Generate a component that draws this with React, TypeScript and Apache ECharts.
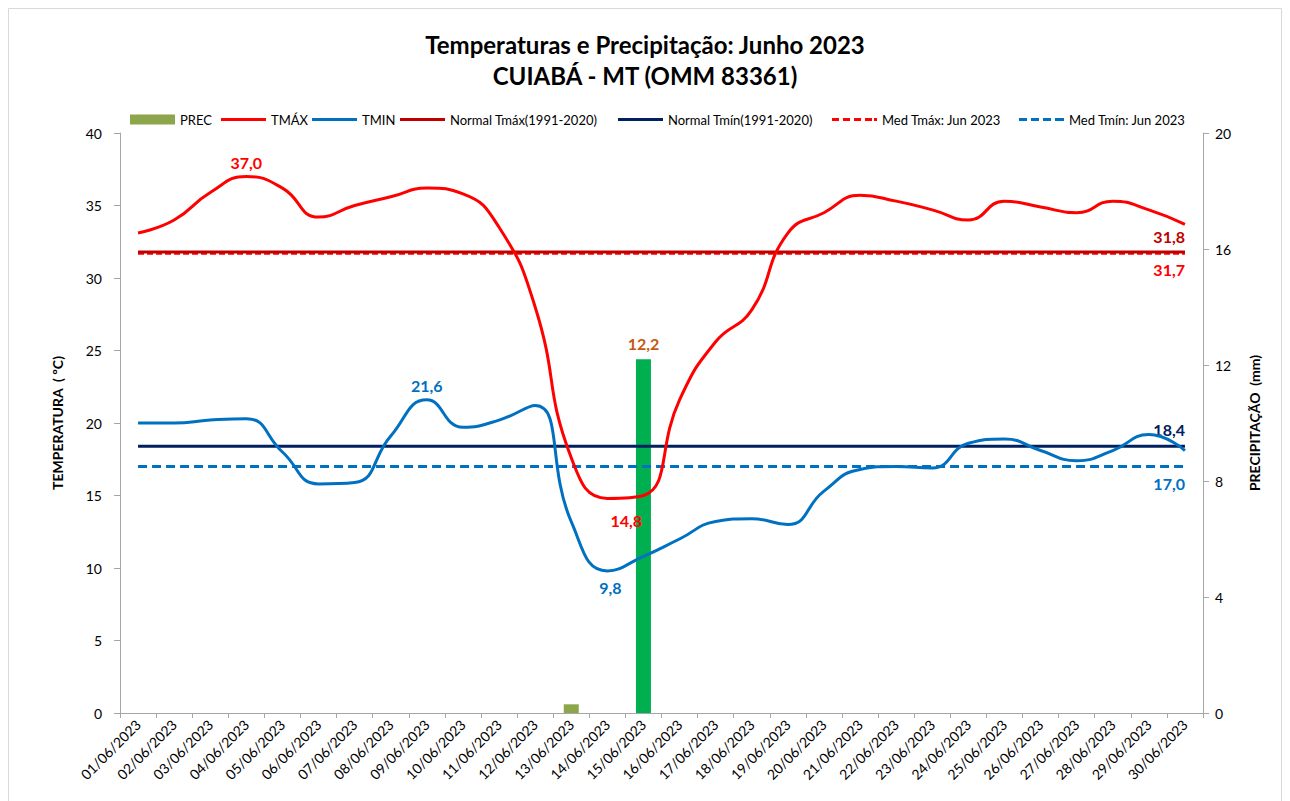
import React, { useEffect, useRef } from "react";
import * as echarts from "echarts";

const CATEGORIES = [
  "01/06/2023", "02/06/2023", "03/06/2023", "04/06/2023", "05/06/2023",
  "06/06/2023", "07/06/2023", "08/06/2023", "09/06/2023", "10/06/2023",
  "11/06/2023", "12/06/2023", "13/06/2023", "14/06/2023", "15/06/2023",
  "16/06/2023", "17/06/2023", "18/06/2023", "19/06/2023", "20/06/2023",
  "21/06/2023", "22/06/2023", "23/06/2023", "24/06/2023", "25/06/2023",
  "26/06/2023", "27/06/2023", "28/06/2023", "29/06/2023", "30/06/2023",
];

const TMAX = [
  33.1, 34.0, 35.9, 37.0, 36.2, 34.2, 35.0, 35.6, 36.2, 35.8,
  33.5, 28.0, 17.6, 14.8, 15.0, 21.6, 25.6, 27.8, 33.1, 34.5,
  35.7, 35.3, 34.7, 34.0, 35.3, 34.9, 34.5, 35.3, 34.7, 33.7,
];

const TMIN = [
  20.0, 20.0, 20.2, 20.3, 18.0, 15.8, 15.9, 19.1, 21.6, 19.7,
  20.2, 21.2, 13.2, 9.8, 10.8, 12.0, 13.2, 13.4, 13.0, 15.3,
  16.8, 17.0, 16.9, 18.6, 18.9, 18.1, 17.4, 18.1, 19.2, 18.1,
];

const PREC = [
  0, 0, 0, 0, 0, 0, 0, 0, 0, 0,
  0, 0, 0.3, 0, 12.2, 0, 0, 0, 0, 0,
  0, 0, 0, 0, 0, 0, 0, 0, 0, 0,
];

const NORMAL_TMAX = 31.8;
const NORMAL_TMIN = 18.4;
const MED_TMAX = 31.7;
const MED_TMIN = 17.0;

const TEMP_TICKS = { min: 0, max: 40, interval: 5 };
const PREC_TICKS = { min: 0, max: 20, interval: 4 };

const FONT = "Lato, 'Noto Sans', sans-serif";
const fmt = (v: number) => v.toFixed(1).replace(".", ",");

const RED = "#FF0000";
const BLUE = "#0070C0";
const DARKRED = "#C00000";
const NAVY = "#002060";
const OLIVE = "#8DA64C";
const GREEN = "#00B050";

const ICON_SOLID = "path://M0,0h45v3h-45z";
const ICON_DASH_RED = "path://M0,0h7v3h-7z M11,0h7v3h-7z M22,0h7v3h-7z M33,0h7v3h-7z M42,0h3v3h-3z";
const ICON_DASH_BLUE = "path://M0,0h8v3h-8z M12,0h8v3h-8z M24,0h8v3h-8z M36,0h9v3h-9z";

const lastIdx = CATEGORIES.length - 1;

export default function App() {
  const ref = useRef<HTMLDivElement>(null);

  useEffect(() => {
    if (!ref.current) return;
    const chart = echarts.init(ref.current, undefined, { renderer: "svg" });

    const mp = (idx: number, value: number, color: string, label: any) => ({
      coord: [idx, value],
      value,
      symbol: "circle",
      symbolSize: 1,
      itemStyle: { color: "rgba(0,0,0,0)" },
      label: {
        show: true,
        color,
        fontFamily: FONT,
        fontWeight: "bold",
        fontSize: 16,
        formatter: () => fmt(value),
        ...label,
      },
    });

    const markPoints = (items: any[]) => ({
      silent: true,
      animation: false,
      data: items,
    });

    const legendItem = (name: string, left: number, icon: string, h: number) => ({
      data: [{ name, icon }],
      left,
      top: 113,
      itemWidth: 45,
      itemHeight: h,
      itemGap: 4,
      itemStyle: { borderWidth: 0 },
      lineStyle: { width: 0 },
      textStyle: { fontFamily: FONT, fontSize: 13, color: "#000" },
      padding: 0,
    });

    const lineBase = {
      type: "line",
      smooth: 0.5,
      symbol: "none",
      showSymbol: false,
      yAxisIndex: 0,
    };

    const option: any = {
      animation: false,
      backgroundColor: "#fff",
      textStyle: { fontFamily: FONT },
      title: {
        text: "Temperaturas e Precipitação: Junho 2023\nCUIABÁ - MT (OMM 83361)",
        left: "center",
        top: 24,
        textStyle: {
          fontFamily: FONT,
          fontSize: 24,
          fontWeight: "bold",
          color: "#000",
          lineHeight: 31,
        },
      },
      graphic: [
        {
          type: "rect",
          silent: true,
          z: -10,
          shape: { x: 8.5, y: 8.5, width: 1273, height: 810 },
          style: { fill: "none", stroke: "#d9d9d9", lineWidth: 1 },
        },
      ],
      legend: [
        legendItem("PREC", 130, "rect", 10),
        legendItem("TMÁX", 221, ICON_SOLID, 3),
        legendItem("TMIN", 312, ICON_SOLID, 3),
        legendItem("Normal Tmáx(1991-2020)", 400, ICON_SOLID, 3),
        legendItem("Normal Tmín(1991-2020)", 618, ICON_SOLID, 3),
        legendItem("Med Tmáx: Jun 2023", 832, ICON_DASH_RED, 3),
        legendItem("Med Tmín: Jun 2023", 1019, ICON_DASH_BLUE, 3),
      ],
      grid: { left: 120, right: 87, top: 133, bottom: 88 },
      xAxis: {
        type: "category",
        data: CATEGORIES,
        boundaryGap: true,
        axisLine: { show: true, lineStyle: { color: "#a6a6a6", width: 1 } },
        axisTick: { show: true, length: 5, lineStyle: { color: "#a6a6a6" } },
        axisLabel: {
          interval: 0,
          rotate: 45,
          margin: 9,
          fontSize: 14,
          color: "#000",
          fontFamily: FONT,
        },
      },
      yAxis: [
        {
          type: "value",
          ...TEMP_TICKS,
          name: "TEMPERATURA  ( ºC)",
          nameLocation: "middle",
          nameGap: 56,
          nameTextStyle: { fontFamily: FONT, fontWeight: "bold", fontSize: 14, color: "#000" },
          axisLine: { show: true, lineStyle: { color: "#a6a6a6" } },
          axisTick: { show: true, length: 6, lineStyle: { color: "#a6a6a6" } },
          splitLine: { show: false },
          axisLabel: { color: "#000", fontSize: 14, margin: 18, fontFamily: FONT },
        },
        {
          type: "value",
          ...PREC_TICKS,
          position: "right",
          name: "PRECIPITAÇÃO  (mm)",
          nameLocation: "middle",
          nameGap: 44,
          nameRotate: 90,
          nameTextStyle: { fontFamily: FONT, fontWeight: "bold", fontSize: 14, color: "#000" },
          axisLine: { show: true, lineStyle: { color: "#a6a6a6" } },
          axisTick: { show: true, length: 6, lineStyle: { color: "#a6a6a6" } },
          splitLine: { show: false },
          axisLabel: { color: "#000", fontSize: 14, margin: 12, fontFamily: FONT },
        },
      ],
      series: [
        {
          name: "PREC",
          type: "bar",
          yAxisIndex: 1,
          barWidth: 15,
          itemStyle: { color: OLIVE },
          data: PREC.map((v, i) =>
            i === 14
              ? {
                  value: v,
                  itemStyle: { color: GREEN },
                  label: {
                    show: true,
                    position: "top",
                    distance: 8,
                    color: "#C55A11",
                    fontFamily: FONT,
                    fontWeight: "bold",
                    fontSize: 16,
                    formatter: (p: any) => fmt(p.value),
                  },
                }
              : v
          ),
        },
        {
          ...lineBase,
          name: "TMÁX",
          z: 5,
          lineStyle: { color: RED, width: 3 },
          itemStyle: { color: RED },
          data: TMAX,
          markPoint: markPoints([
            mp(3, TMAX[3], RED, { position: "top", distance: 6 }),
            mp(13, TMAX[13], RED, { position: "bottom", distance: 14, offset: [19, 0] }),
          ]),
        },
        {
          ...lineBase,
          name: "TMIN",
          z: 5,
          lineStyle: { color: BLUE, width: 3 },
          itemStyle: { color: BLUE },
          data: TMIN,
          markPoint: markPoints([
            mp(8, TMIN[8], BLUE, { position: "top", distance: 6 }),
            mp(13, TMIN[13], BLUE, { position: "bottom", distance: 8, offset: [3, 0] }),
          ]),
        },
        {
          ...lineBase,
          name: "Normal Tmáx(1991-2020)",
          smooth: false,
          z: 3,
          lineStyle: { color: DARKRED, width: 3 },
          itemStyle: { color: DARKRED },
          data: CATEGORIES.map(() => NORMAL_TMAX),
          markPoint: markPoints([
            mp(lastIdx, NORMAL_TMAX, DARKRED, { position: "top", align: "right", distance: 7 }),
          ]),
        },
        {
          ...lineBase,
          name: "Normal Tmín(1991-2020)",
          smooth: false,
          z: 3,
          lineStyle: { color: NAVY, width: 3 },
          itemStyle: { color: NAVY },
          data: CATEGORIES.map(() => NORMAL_TMIN),
          markPoint: markPoints([
            mp(lastIdx, NORMAL_TMIN, NAVY, { position: "top", align: "right", distance: 8 }),
          ]),
        },
        {
          ...lineBase,
          name: "Med Tmáx: Jun 2023",
          smooth: false,
          z: 2,
          lineStyle: { color: RED, width: 3, type: [6, 3] },
          itemStyle: { color: RED },
          data: CATEGORIES.map(() => MED_TMAX),
          markPoint: markPoints([
            mp(lastIdx, MED_TMAX, RED, { position: "bottom", align: "right", distance: 8 }),
          ]),
        },
        {
          ...lineBase,
          name: "Med Tmín: Jun 2023",
          smooth: false,
          z: 2,
          lineStyle: { color: BLUE, width: 3, type: [9, 5] },
          itemStyle: { color: BLUE },
          data: CATEGORIES.map(() => MED_TMIN),
          markPoint: markPoints([
            mp(lastIdx, MED_TMIN, BLUE, { position: "bottom", align: "right", distance: 8 }),
          ]),
        },
      ],
    };

    chart.setOption(option);
    return () => chart.dispose();
  }, []);

  return (
    <div
      ref={ref}
      style={{ position: "fixed", left: 0, top: 0, width: 1290, height: 801, background: "#fff" }}
    />
  );
}
